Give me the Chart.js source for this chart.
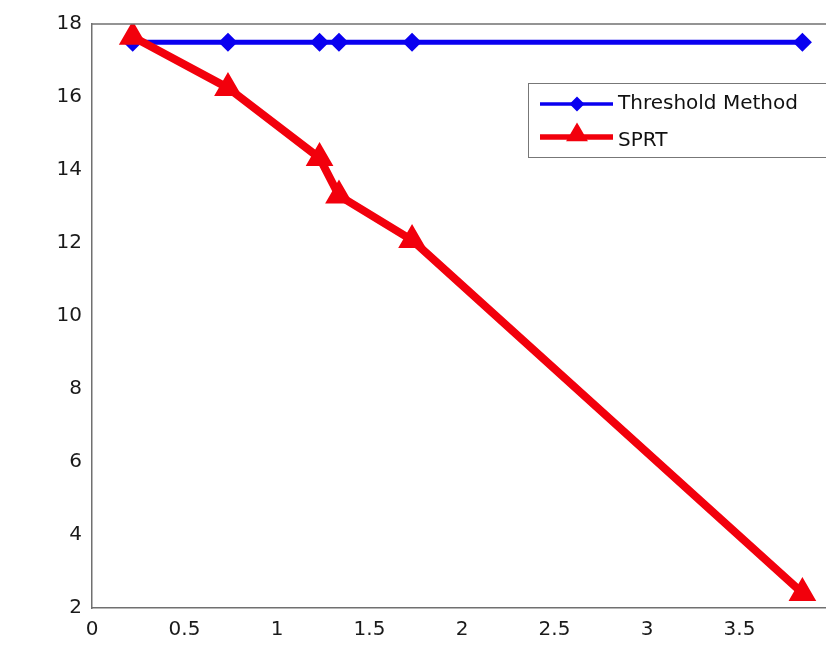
<!DOCTYPE html>
<html lang="en">
<head>
  <meta charset="UTF-8">
  <title>Threshold Method vs SPRT</title>
  <script src="https://cdn.jsdelivr.net/npm/chart.js"></script>
  <style>
    html, body { margin: 0; padding: 0; background: #fff; overflow: hidden; }
    #wrap { position: absolute; left: 0; top: 0; width: 850px; height: 645px; }
  </style>
</head>
<body>
  <div id="wrap"><canvas id="chart"></canvas></div>

  <script>
    // values
    const xValues = [0.22, 0.735, 1.23, 1.335, 1.73, 3.84];
    const thresholdValues = [17.5, 17.5, 17.5, 17.5, 17.5, 17.5];
    const sprtValues = [17.65, 16.25, 14.33, 13.3, 12.08, 2.41];
    const seriesNames = ['Threshold Method', 'SPRT'];
    const xTicks = [0, 0.5, 1, 1.5, 2, 2.5, 3, 3.5];
    const yTicks = [2, 4, 6, 8, 10, 12, 14, 16, 18];

    const axisColor = '#707070';
    const tickFont = { family: 'DejaVu Sans', size: 20 };

    function pts(ys) {
      return xValues.map((x, i) => ({ x: x, y: ys[i] }));
    }

    // top edge of the box (left and bottom come from the axes)
    const framePlugin = {
      id: 'frame',
      afterDraw(chart) {
        const a = chart.chartArea, c = chart.ctx;
        c.save();
        c.strokeStyle = axisColor;
        c.lineWidth = 1.5;
        c.beginPath();
        c.moveTo(a.left, a.top);
        c.lineTo(a.right, a.top);
        c.stroke();
        c.restore();
      }
    };

    // matlab style legend box inside the plot
    const legendBox = {
      id: 'legendBox',
      afterDraw(chart) {
        const c = chart.ctx;
        const left = 528, top = 83, w = 310, h = 74;
        c.save();
        c.fillStyle = '#fff';
        c.fillRect(left, top, w, h);
        c.strokeStyle = '#777';
        c.lineWidth = 1;
        c.strokeRect(left + 0.5, top + 0.5, w, h);
        const rows = [104, 137];
        chart.data.datasets.forEach((ds, i) => {
          const y = rows[i];
          c.strokeStyle = ds.borderColor;
          c.lineWidth = ds.borderWidth * 0.7;
          c.beginPath();
          c.moveTo(540, y);
          c.lineTo(613, y);
          c.stroke();
          Chart.helpers.drawPoint(c, {
            pointStyle: ds.pointStyle,
            radius: ds.pointRadius - 1,
            borderWidth: 1
          }, 577, y - (ds.pointStyle === 'triangle' ? 2 : 0));
          c.fillStyle = ds.pointBackgroundColor;
          c.fill();
          c.fillStyle = '#111';
          c.font = '20px "DejaVu Sans"';
          c.textBaseline = 'middle';
          c.textAlign = 'left';
          c.fillText(ds.label, 618, y + (i === 1 ? 4 : 0));
        });
        c.restore();
      }
    };

    const chart = new Chart(document.getElementById('chart'), {
      type: 'line',
      data: {
        datasets: [{
          label: seriesNames[0],
          data: pts(thresholdValues),
          borderColor: '#0a00f0',
          backgroundColor: '#0a00f0',
          pointBackgroundColor: '#0a00f0',
          pointBorderColor: '#0a00f0',
          borderWidth: 5,
          pointStyle: 'rectRot',
          pointRadius: 6,
          order: 1
        }, {
          label: seriesNames[1],
          data: pts(sprtValues),
          borderColor: '#f2000c',
          backgroundColor: '#f2000c',
          pointBackgroundColor: '#f2000c',
          pointBorderColor: '#f2000c',
          borderWidth: 8,
          pointStyle: 'triangle',
          pointRadius: 8,
          order: 0
        }]
      },
      options: {
        responsive: true,
        maintainAspectRatio: false,
        animation: false,
        layout: { padding: { left: 0, top: 24, right: 18, bottom: 0 } },
        plugins: { legend: { display: false }, tooltip: { enabled: false } },
        elements: { line: { tension: 0, borderJoinStyle: 'round', borderCapStyle: 'round' } },
        scales: {
          x: {
            type: 'linear',
            min: 0,
            max: 4,
            afterBuildTicks(s) { s.ticks = xTicks.map(v => ({ value: v })); },
            afterFit(s) { s.height = 37; },
            grid: { display: false, drawTicks: false },
            border: { display: true, color: axisColor, width: 1.5 },
            ticks: { color: '#1a1a1a', font: tickFont, padding: 10, maxRotation: 0,
                     callback: v => String(v) }
          },
          y: {
            type: 'linear',
            min: 2,
            max: 18,
            afterBuildTicks(s) { s.ticks = yTicks.map(v => ({ value: v })); },
            afterFit(s) { s.width = 92; },
            grid: { display: false, drawTicks: false },
            border: { display: true, color: axisColor, width: 1.5 },
            ticks: { color: '#1a1a1a', font: tickFont, padding: 10,
                     callback: v => String(v) }
          }
        }
      },
      plugins: [framePlugin, legendBox]
    });
  </script>
</body>
</html>
